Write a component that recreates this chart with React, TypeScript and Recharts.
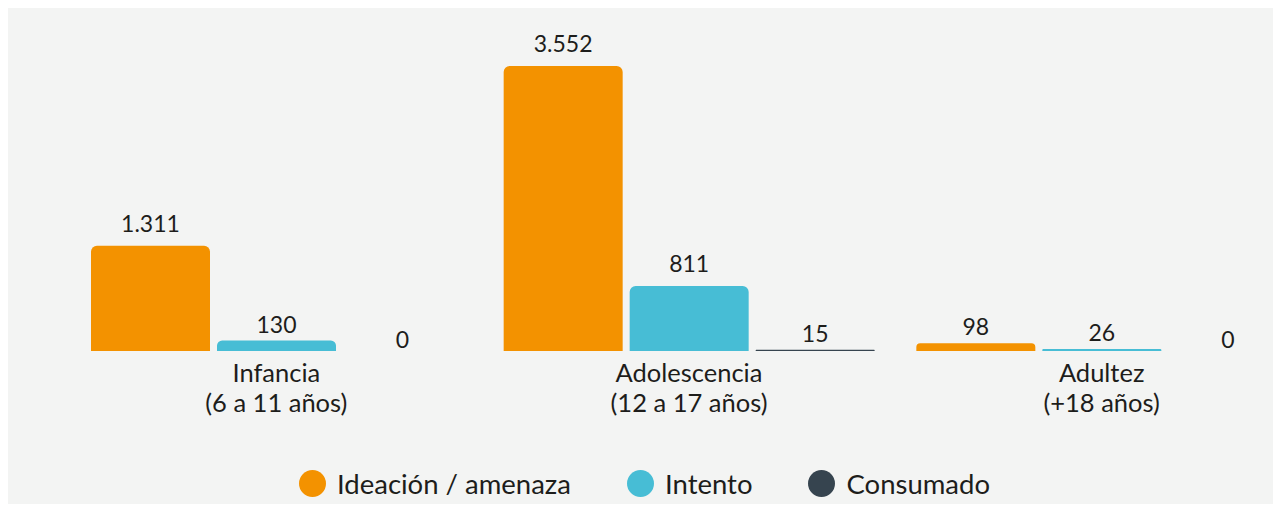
import React from "react";
import { BarChart, Bar, XAxis, YAxis, Legend, LabelList } from "recharts";

const categories = ["Infancia", "Adolescencia", "Adultez"];
const categorySub = ["(6 a 11 años)", "(12 a 17 años)", "(+18 años)"];
const ideacion = [1311, 3552, 98];
const intento = [130, 811, 26];
const consumado = [0, 15, 0];

const seriesNames = ["Ideación / amenaza", "Intento", "Consumado"];
const seriesColors = ["#F39200", "#47BDD5", "#36444F"];

const data = categories.map((c, i) => ({
  name: c,
  sub: categorySub[i],
  ideacion: ideacion[i],
  intento: intento[i],
  consumado: consumado[i],
}));

const FONT = "Lato, 'Noto Sans', sans-serif";

const fmt = (v: number) => v.toLocaleString("de-DE");

const zeroMin = (v: any) => (Number(v) === 0 ? 0.01 : 0);

const ValueLabel = (props: any) => {
  const { x, y, width, height, value } = props;
  const off = height > 50 ? 14 : height > 0.5 ? 8 : 3;
  return (
    <text
      x={x + width / 2}
      y={y - off}
      textAnchor="middle"
      fontFamily={FONT}
      fontSize={23}
      fill="#1d1d1b"
    >
      {fmt(Number(value))}
    </text>
  );
};

const CatTick = (props: any) => {
  const { x, y, payload, index } = props;
  return (
    <text x={x} y={y} textAnchor="middle" fontFamily={FONT} fontSize={25.5} fill="#1d1d1b">
      <tspan x={x} dy={30.5}>{payload.value}</tspan>
      <tspan x={x} dy={30}>{categorySub[index]}</tspan>
    </text>
  );
};

const LegendContent = () => (
  <div style={{ display: "flex", alignItems: "center", gap: 56, fontFamily: FONT, fontSize: 27.5, color: "#1d1d1b", height: 27 }}>
    {seriesNames.map((n, i) => (
      <div key={n} style={{ display: "flex", alignItems: "center" }}>
        <div style={{ width: 27, height: 27, borderRadius: "50%", background: seriesColors[i], marginRight: 11 }} />
        <span style={{ lineHeight: "27px" }}>{n}</span>
      </div>
    ))}
  </div>
);

export default function App() {
  return (
    <div
      style={{
        margin: "-1px 0 0 -2px",
        width: 1275,
        height: 497,
        overflow: "hidden",
        background: "#F3F4F3",
        position: "relative",
      }}
    >
      <BarChart
        width={1320}
        height={497}
        data={data}
        margin={{ top: 59, left: 64, right: 18, bottom: 93 }}
        barCategoryGap={21}
        barGap={7}
      >
        <XAxis
          dataKey="name"
          axisLine={false}
          tickLine={false}
          tickSize={0}
          tickMargin={0}
          height={60}
          interval={0}
          tick={<CatTick />}
        />
        <YAxis hide domain={[0, "dataMax"]} />
        <Legend
          verticalAlign="middle"
          align="center"
          layout="horizontal"
          wrapperStyle={{ top: 463, left: 293, width: "auto", height: 27 }}
          content={<LegendContent />}
        />
        <Bar dataKey="ideacion" name={seriesNames[0]} fill={seriesColors[0]} radius={[6, 6, 0, 0]} minPointSize={zeroMin} isAnimationActive={false}>
          <LabelList dataKey="ideacion" content={<ValueLabel />} />
        </Bar>
        <Bar dataKey="intento" name={seriesNames[1]} fill={seriesColors[1]} radius={[6, 6, 0, 0]} minPointSize={zeroMin} isAnimationActive={false}>
          <LabelList dataKey="intento" content={<ValueLabel />} />
        </Bar>
        <Bar dataKey="consumado" name={seriesNames[2]} fill={seriesColors[2]} radius={[6, 6, 0, 0]} minPointSize={zeroMin} isAnimationActive={false}>
          <LabelList dataKey="consumado" content={<ValueLabel />} />
        </Bar>
      </BarChart>
    </div>
  );
}
